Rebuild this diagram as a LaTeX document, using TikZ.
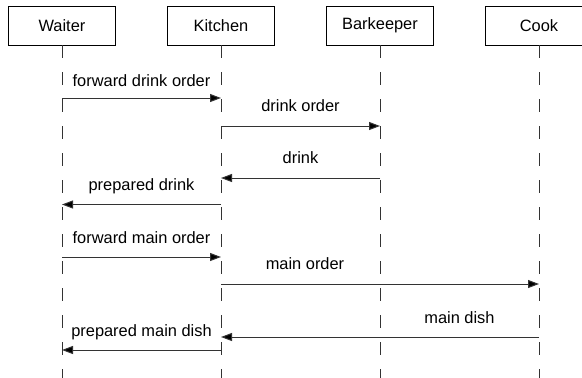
\documentclass[tikz,border=0pt]{standalone}
\usepackage{fontspec}
\setmainfont{Liberation Sans}
\usetikzlibrary{arrows.meta}
\begin{document}
\begin{tikzpicture}[x=1pt,y=-1pt,
  actor/.style={draw=black,line width=0.9pt,minimum width=107pt,minimum height=39pt,inner sep=0pt,font=\fontsize{16.4}{19}\selectfont},
  lifeline/.style={line width=1pt,dash pattern=on 13pt off 14pt,draw=black!80},
  msg/.style={line width=1pt,draw=black!80,-{Triangle[length=11pt,width=8pt,fill=black]}},
  lbl/.style={anchor=base,inner sep=0pt,font=\fontsize{16.4}{19}\selectfont}]
\useasboundingbox (0,0) rectangle (582,378);
\clip (0,0) rectangle (582,378);
\fill[white] (0,0) rectangle (582,378);
% actors
\node[actor] (waiter) at (62,25.5) {Waiter};
\node[actor] (kitchen) at (221,25.5) {Kitchen};
\node[actor] (bar) at (380,25.5) {Barkeeper};
\node[actor] (cook) at (539,25.5) {Cook};
% lifeline ends
\coordinate (bottom) at (0,380);
\foreach \a in {waiter,kitchen,bar,cook}{
  \draw[lifeline] (\a.south) -- (\a |- bottom);
}
% message rows
\coordinate (r1) at (0,98);
\coordinate (r2) at (0,126);
\coordinate (r3) at (0,178);
\coordinate (r4) at (0,204.5);
\coordinate (r5) at (0,257);
\coordinate (r6) at (0,284);
\coordinate (r7) at (0,337);
\coordinate (r8) at (0,350);
% messages
\draw[msg] (waiter |- r1) -- (kitchen |- r1);
\node[lbl] (l1) at (141.5,86) {forward drink order};
\draw[msg] (kitchen |- r2) -- (bar |- r2);
\node[lbl] (l2) at (300.5,111.5) {drink order};
\draw[msg] (bar |- r3) -- (kitchen |- r3);
\node[lbl] (l3) at (300.5,163.5) {drink};
\draw[msg] (kitchen |- r4) -- (waiter |- r4);
\node[lbl] (l4) at (141.5,190) {prepared drink};
\draw[msg] (waiter |- r5) -- (kitchen |- r5);
\node[lbl] (l5) at (141.5,243) {forward main order};
\draw[msg] (kitchen |- r6) -- (cook |- r6);
\node[lbl] (l6) at (305,269) {main order};
\draw[msg] (cook |- r7) -- (kitchen |- r7);
\node[lbl] (l7) at (459.5,323) {main dish};
\draw[msg] (kitchen |- r8) -- (waiter |- r8);
\node[lbl] (l8) at (141.5,336.5) {prepared main dish};
\end{tikzpicture}
\end{document}
